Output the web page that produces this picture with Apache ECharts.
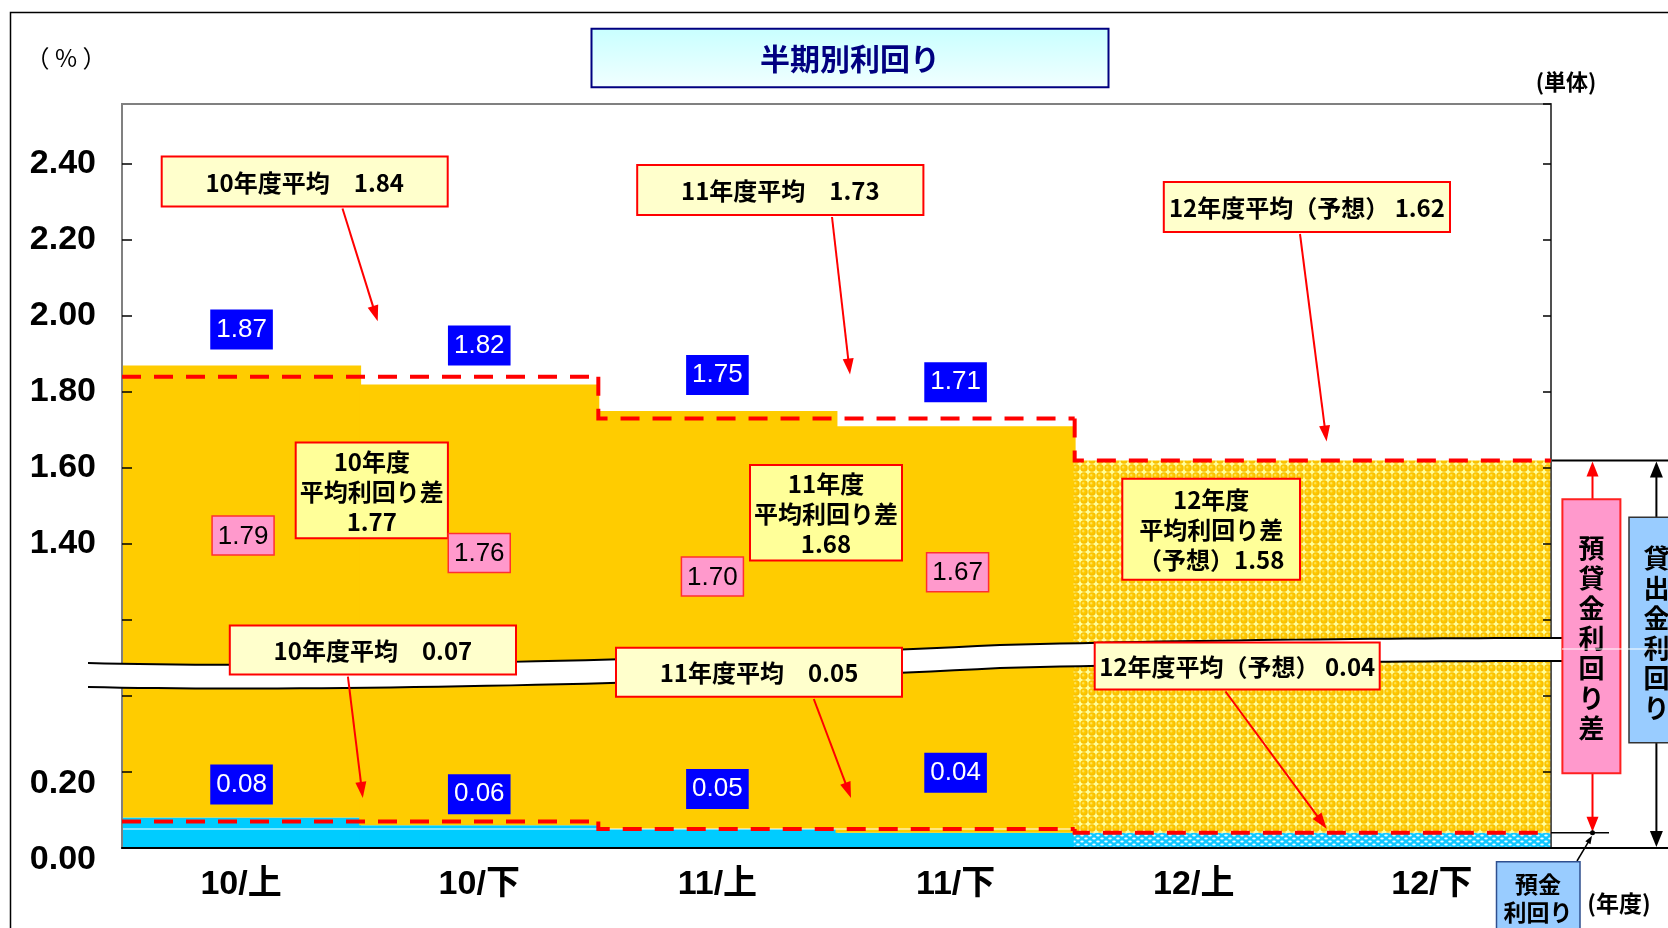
<!DOCTYPE html>
<html><head><meta charset="utf-8">
<script src="https://cdn.jsdelivr.net/npm/echarts@6/dist/echarts.min.js"></script>
<style>html,body{margin:0;padding:0;background:#fff}#c{width:1668px;height:928px}</style>
</head><body><div id="c"></div>
<script>
// ---------------- data ----------------
const categories = ['10/上', '10/下', '11/上', '11/下', '12/上', '12/下'];
const loanYield = [1.87, 1.82, 1.75, 1.71];        // 貸出金利回り (half-year actual)
const depositYield = [0.08, 0.06, 0.05, 0.04];     // 預金利回り (half-year actual)
const spreadYield = [1.79, 1.76, 1.70, 1.67];      // 預貸金利回り差 (half-year actual)
const fiscalYears = ['10年度', '11年度', '12年度'];
const fyLoanAvg = [1.84, 1.73, 1.62];
const fyDepositAvg = [0.07, 0.05, 0.04];
const fySpreadAvg = [1.77, 1.68, 1.58];
const forecastYear = 2;                              // 12年度 = 予想
const yTickLabels = ['0.00', '0.20', '', '', '1.40', '1.60', '1.80', '2.00', '2.20', '2.40'];
const BREAK_GAP = 0.6;   // broken axis: values >= 1.0 are drawn shifted down by this amount
function toV(v) { return v >= 1.0 ? v - BREAK_GAP : v; }

// ---------------- layout / style ----------------
const LOAN_LABEL_DIST = [16, 19, 16, 24];
const DEP_LABEL_DIST = [13, 11, 20, 40];
const SPREAD_LABEL_POS = [[2, 535.5], [0, 553], [-5, 576.6], [2, 572.3]]; // [dx from category center, y]
const FONT_CJK = '"Noto Sans CJK JP"';
const ORANGE = '#FFCC00', CYAN = '#00CCFF', RED = '#FF0000';
const BAR_W = '100.8%';

function orangePattern() {
  const c = document.createElement('canvas'); c.width = 8; c.height = 8;
  const g = c.getContext('2d');
  g.fillStyle = '#FFFF99'; g.fillRect(0, 0, 8, 8);
  const gr = g.createRadialGradient(3, 3, 0.3, 4, 4, 3.9);
  gr.addColorStop(0, '#FFE870'); gr.addColorStop(0.35, '#FFCC00'); gr.addColorStop(1, '#F6B800');
  g.fillStyle = gr; g.beginPath(); g.arc(4, 4, 3.7, 0, Math.PI * 2); g.fill();
  return c;
}
function cyanPattern() {
  const c = document.createElement('canvas'); c.width = 8; c.height = 6;
  const g = c.getContext('2d');
  g.fillStyle = '#10C8FF'; g.fillRect(0, 0, 8, 6);
  g.fillStyle = '#F0FCFF';
  const el = (x, y) => { g.beginPath(); g.ellipse(x, y, 1.8, 0.9, 0, 0, Math.PI * 2); g.fill(); };
  el(2, 1.5); el(6, 4.5);
  return c;
}

const nActual = loanYield.length;
const isFc = i => Math.floor(i / 2) === forecastYear;
const depActualData = categories.map((c, i) => i < nActual ? { value: depositYield[i], label: { distance: DEP_LABEL_DIST[i] } } : '-');
const gapActualData = categories.map((c, i) => i < nActual ? { value: +(toV(loanYield[i]) - depositYield[i]).toFixed(4), label: { distance: LOAN_LABEL_DIST[i] } } : '-');
const depFcData = categories.map((c, i) => isFc(i) ? fyDepositAvg[forecastYear] : '-');
const gapFcData = categories.map((c, i) => isFc(i) ? +(toV(fyLoanAvg[forecastYear]) - fyDepositAvg[forecastYear]).toFixed(4) : '-');

const blueLabel = {
  show: true, position: 'top', color: '#fff', backgroundColor: '#0000FF',
  fontFamily: 'Liberation Sans', fontSize: 26, lineHeight: 26, padding: [7, 6, 7, 6]
};

function stepSeries(avgArr, name) {
  return {
    type: 'custom', name: name, z: 6, silent: true,
    data: avgArr.map((v, i) => [i, toV(v), i > 0 ? toV(avgArr[i - 1]) : NaN]),
    encode: { x: 0, y: 1 },
    renderItem: function (params, api) {
      const i = api.value(0), y = api.value(1), prev = api.value(2);
      const bw = api.size([1, 0])[0];
      const c = api.coord([2 * i, y]);
      const xl = c[0] - bw / 2, xr = c[0] + bw * 1.5;
      const pts = [];
      if (!isNaN(prev)) pts.push([xl, api.coord([2 * i, prev])[1]]);
      pts.push([xl, c[1]], [xr, c[1]]);
      return { type: 'polyline', shape: { points: pts }, style: { stroke: RED, lineWidth: 4, lineDash: [19, 13], fill: null } };
    }
  };
}

function yLabel(value) {
  const k = Math.round(value / 0.2);
  if (Math.abs(value - k * 0.2) > 1e-6) return '';
  const t = yTickLabels[k] || '';
  if (!t) return '';
  return k <= 1 ? '{low|' + t + '}' : t;
}
const yLabelFont = { fontSize: 34, fontWeight: 'bold', fontFamily: 'Liberation Sans', color: '#000' };

const chart = echarts.init(document.getElementById('c'), null, { renderer: 'canvas' });
chart.setOption({
  animation: false,
  backgroundColor: '#fff',
  grid: { left: 122, right: 117, top: 104, bottom: 80, show: true, borderColor: '#808080', borderWidth: 2, backgroundColor: '#fff' },
  xAxis: {
    type: 'category', data: categories, boundaryGap: true, z: 5,
    axisLine: { lineStyle: { color: '#000', width: 2 } },
    axisTick: { inside: true, length: 10, lineStyle: { color: '#000', width: 1.5 } },
    axisLabel: { fontSize: 34, fontWeight: 'bold', fontFamily: 'Liberation Sans, "Noto Sans CJK JP"', color: '#000', margin: 20 }
  },
  yAxis: [{
    type: 'value', min: 0, max: 1.958, interval: 0.2, position: 'left', z: 5,
    axisLine: { show: true, lineStyle: { color: '#808080', width: 2 } },
    axisTick: { show: true, inside: true, length: 10, lineStyle: { color: '#000', width: 1.5 } },
    splitLine: { show: false },
    axisLabel: Object.assign({ formatter: yLabel, margin: 26, showMaxLabel: false,
      rich: { low: Object.assign({ padding: [24, 0, 0, 0] }, yLabelFont) } }, yLabelFont)
  }, {
    type: 'value', min: 0, max: 1.958, interval: 0.2, position: 'right', z: 5,
    axisLine: { show: true, lineStyle: { color: '#404040', width: 1.5 } },
    axisTick: { show: true, inside: true, length: 8, lineStyle: { color: '#000', width: 1.5 } },
    splitLine: { show: false }, axisLabel: { show: false }
  }],
  series: [
    { type: 'bar', name: '預金利回り', stack: 'y', barWidth: BAR_W, data: depActualData,
      itemStyle: { color: CYAN }, label: Object.assign({}, blueLabel, { formatter: p => depositYield[p.dataIndex].toFixed(2) }) },
    { type: 'bar', name: '預貸金利回り差', stack: 'y', barWidth: BAR_W, data: gapActualData,
      itemStyle: { color: ORANGE }, label: Object.assign({}, blueLabel, { formatter: p => loanYield[p.dataIndex].toFixed(2) }) },
    { type: 'bar', name: '預金利回り(予想)', stack: 'y', barWidth: BAR_W, data: depFcData,
      itemStyle: { color: { image: cyanPattern(), repeat: 'repeat' } } },
    { type: 'bar', name: '預貸金利回り差(予想)', stack: 'y', barWidth: BAR_W, data: gapFcData,
      itemStyle: { color: { image: orangePattern(), repeat: 'repeat' } } },
    stepSeries(fyLoanAvg, '貸出金利回り年度平均'),
    stepSeries(fyDepositAvg, '預金利回り年度平均')
  ]
});

// ---------------- annotations ----------------
const G = [];
function txt(text, x, y, font, fill, z, extra) {
  return Object.assign({ type: 'text', z: z || 30, silent: true,
    style: Object.assign({ text: text, x: x, y: y, font: font, fill: fill || '#000', align: 'center', verticalAlign: 'middle',
      textAlign: 'center', textVerticalAlign: 'middle' }, extra || {}) });
}
function rect(x, y, w, h, fill, stroke, lw, z) {
  return { type: 'rect', z: z || 25, silent: true, shape: { x: x, y: y, width: w, height: h },
    style: { fill: fill, stroke: stroke, lineWidth: lw } };
}
function arrow(x1, y1, x2, y2, color, lw, len, wid, z, both) {
  const dx = x2 - x1, dy = y2 - y1, L = Math.hypot(dx, dy), ux = dx / L, uy = dy / L;
  const head = (px, py, sx, sy) => {
    const bx = px - sx * len, by = py - sy * len;
    return { type: 'polygon', z: z, silent: true, shape: { points: [[px, py], [bx - sy * wid / 2, by + sx * wid / 2], [bx + sy * wid / 2, by - sx * wid / 2]] }, style: { fill: color } };
  };
  const sx = both ? x1 + ux * len * 0.8 : x1, sy = both ? y1 + uy * len * 0.8 : y1;
  G.push({ type: 'line', z: z, silent: true, shape: { x1: sx, y1: sy, x2: x2 - ux * len * 0.8, y2: y2 - uy * len * 0.8 }, style: { stroke: color, lineWidth: lw } });
  G.push(head(x2, y2, ux, uy));
  if (both) G.push(head(x1, y1, -ux, -uy));
}
// cubic bezier helpers for the axis-break band (decoration)
function bez(p0, p1, p2, p3, n) {
  const pts = [];
  for (let k = 0; k <= n; k++) {
    const t = k / n, a = (1 - t) ** 3, b = 3 * (1 - t) ** 2 * t, c = 3 * (1 - t) * t * t, d = t ** 3;
    pts.push([a * p0[0] + b * p1[0] + c * p2[0] + d * p3[0], a * p0[1] + b * p1[1] + c * p2[1] + d * p3[1]]);
  }
  return pts;
}
function curve(y0, y1, y2, y3, y4, y5, y6) {
  return bez([88, y0], [300, y1], [700, y2], [1000, y3], 40).concat(bez([1000, y3], [1200, y4], [1400, y5], [1562, y6], 30).slice(1));
}

// outer frame
G.push({ type: 'polyline', z: 1, silent: true, shape: { points: [[10.5, 928], [10.5, 12.5], [1668, 12.5]] }, style: { stroke: '#000', lineWidth: 1.5, fill: null } });
// title
G.push({ type: 'rect', z: 25, silent: true, shape: { x: 591.5, y: 28.7, width: 517, height: 58.5 },
  style: { fill: new echarts.graphic.LinearGradient(0, 0, 0, 1, [{ offset: 0, color: '#C8FFFF' }, { offset: 1, color: '#F2FFFF' }]), stroke: '#000080', lineWidth: 2 } });
G.push(txt('半期別利回り', 850, 58.5, 'bold 30px ' + FONT_CJK, '#000080'));
G.push(txt('（ % ）', 66, 58, '24px ' + FONT_CJK, '#000'));
G.push(txt('(単体)', 1566, 82, 'bold 22px ' + FONT_CJK, '#000'));
G.push(txt('(年度)', 1619, 903, 'bold 23px ' + FONT_CJK, '#000'));

// axis break band
const topC = curve(663, 669, 660, 645, 640, 638, 638);
const botC = curve(687, 692, 684, 668, 663, 661, 661);
G.push({ type: 'polygon', z: 10, silent: true, shape: { points: topC.concat(botC.slice().reverse()) }, style: { fill: '#fff', stroke: null } });
G.push({ type: 'polyline', z: 11, silent: true, shape: { points: topC }, style: { fill: null, stroke: '#000', lineWidth: 2 } });
G.push({ type: 'polyline', z: 11, silent: true, shape: { points: botC }, style: { fill: null, stroke: '#000', lineWidth: 2 } });
// thin white line inside deposit bars
G.push({ type: 'line', z: 4, silent: true, shape: { x1: 123, y1: 829, x2: 1074, y2: 829 }, style: { stroke: '#fff', lineWidth: 1.2 } });

// callouts
const fcTag = '（予想）';
const CALLOUTS = [
  { r: [161.7, 156.4, 286, 50], t: fiscalYears[0] + '平均　' + fyLoanAvg[0].toFixed(2), a: [342.5, 208.5, 377.7, 321.3], fill: '#FFFFCC' },
  { r: [637.2, 164.9, 286.2, 50], t: fiscalYears[1] + '平均　' + fyLoanAvg[1].toFixed(2), a: [832, 217, 850, 374.5], fill: '#FFFFCC' },
  { r: [1163.8, 181.9, 286.2, 50], t: fiscalYears[2] + '平均' + fcTag + ' ' + fyLoanAvg[2].toFixed(2), a: [1300, 234, 1326.6, 441.5], fill: '#FFFFCC' },
  { r: [295.7, 442.5, 152.2, 95.8], t: fiscalYears[0] + '\n平均利回り差\n' + fySpreadAvg[0].toFixed(2), fill: '#FFFF99' },
  { r: [750, 464.9, 152, 95.7], t: fiscalYears[1] + '\n平均利回り差\n' + fySpreadAvg[1].toFixed(2), fill: '#FFFF99' },
  { r: [1122.3, 478.7, 177.7, 101], t: fiscalYears[2] + '\n平均利回り差\n' + fcTag + fySpreadAvg[2].toFixed(2), fill: '#FFFF99' },
  { r: [229.8, 625.5, 286.2, 49], t: fiscalYears[0] + '平均　' + fyDepositAvg[0].toFixed(2), a: [347.9, 676.6, 362.8, 797.9], fill: '#FFFFCC' },
  { r: [616, 647.8, 286, 49], t: fiscalYears[1] + '平均　' + fyDepositAvg[1].toFixed(2), a: [813.8, 699, 851, 797.9], fill: '#FFFFCC' },
  { r: [1094.7, 642.5, 285, 47], t: fiscalYears[2] + '平均' + fcTag + ' ' + fyDepositAvg[2].toFixed(2), a: [1225.5, 691.5, 1326.6, 828.7], fill: '#FFFFCC' }
];
CALLOUTS.forEach(c => {
  const [x, y, w, h] = c.r;
  G.push(rect(x, y, w, h, c.fill, RED, 2, 25));
  G.push(txt(c.t, x + w / 2, y + h / 2 + 1, 'bold 24px ' + FONT_CJK, '#000', 26, { lineHeight: 30 }));
  if (c.a) arrow(c.a[0], c.a[1], c.a[2], c.a[3], RED, 2, 16, 11, 24, false);
});

// spread (pink) labels
spreadYield.forEach((v, i) => {
  const cx = chart.convertToPixel({ xAxisIndex: 0 }, i) + SPREAD_LABEL_POS[i][0];
  const cy = SPREAD_LABEL_POS[i][1];
  G.push(rect(cx - 31, cy - 19.5, 62, 39, '#FF99CC', '#FF3030', 1.5, 25));
  G.push(txt(v.toFixed(2), cx, cy + 1, '26px Liberation Sans', '#000', 26));
});

// right side legend-brackets
const yTop = chart.convertToPixel({ yAxisIndex: 0 }, toV(fyLoanAvg[forecastYear]));
const yDep = chart.convertToPixel({ yAxisIndex: 0 }, fyDepositAvg[forecastYear]);
const yZero = chart.convertToPixel({ yAxisIndex: 0 }, 0);
G.push({ type: 'line', z: 12, silent: true, shape: { x1: 1552, y1: yTop, x2: 1668, y2: yTop }, style: { stroke: '#000', lineWidth: 2 } });
G.push({ type: 'line', z: 12, silent: true, shape: { x1: 1551, y1: yZero, x2: 1668, y2: yZero }, style: { stroke: '#000', lineWidth: 2 } });
G.push({ type: 'line', z: 12, silent: true, shape: { x1: 1551, y1: yDep, x2: 1609, y2: yDep }, style: { stroke: '#000', lineWidth: 1.5 } });
arrow(1592.5, yTop + 1, 1592.5, yDep - 1, RED, 2, 15, 12, 12, true);
arrow(1656.4, yTop + 1, 1656.4, yZero - 1, '#000', 2, 16, 13, 12, true);
G.push({ type: 'circle', z: 13, silent: true, shape: { cx: 1592.5, cy: yDep, r: 2.5 }, style: { fill: '#000' } });
G.push(rect(1562.4, 499.3, 58, 274, '#FF99CC', '#FF2020', 2, 14));
G.push(txt('預\n貸\n金\n利\n回\nり\n差', 1591.4, 638, 'bold 26px ' + FONT_CJK, '#000', 15, { lineHeight: 30 }));
G.push(rect(1629, 517.3, 56, 225.4, '#99CCFF', '#333333', 1.5, 14));
G.push(txt('貸\n出\n金\n利\n回\nり', 1656.5, 633, 'bold 26px ' + FONT_CJK, '#000', 15, { lineHeight: 30 }));
G.push({ type: 'line', z: 16, silent: true, shape: { x1: 1562, y1: 649, x2: 1668, y2: 649 }, style: { stroke: '#fff', lineWidth: 1.2 } });
arrow(1577, 861, 1592, yDep + 3, '#000', 1.5, 8, 6, 12, false);
G.push(rect(1496.5, 861.7, 83.5, 80, '#99CCFF', '#2F4F8F', 1.5, 14));
G.push(txt('預金\n利回り', 1538, 898, 'bold 23px ' + FONT_CJK, '#000', 15, { lineHeight: 28 }));

chart.setOption({ graphic: { elements: G } });
</script>
</body></html>
